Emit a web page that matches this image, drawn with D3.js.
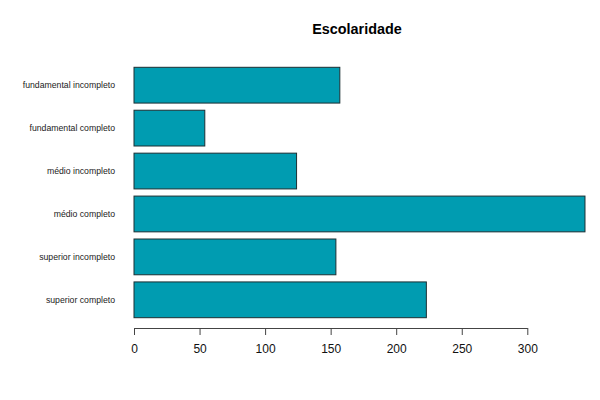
<!DOCTYPE html>
<html>
<head>
<meta charset="utf-8">
<script src="https://cdn.jsdelivr.net/npm/d3@7"></script>
<style>
  body { margin: 0; background: #fff; }
  text { font-family: "Liberation Sans", Arial, sans-serif; }
</style>
</head>
<body>
<div class="container"></div>
<script>
// data
const categories = ["fundamental incompleto", "fundamental completo", "médio incompleto",
                    "médio completo", "superior incompleto", "superior completo"];
const counts = [157, 54, 124, 344, 154, 223];
const xTicks = [0, 50, 100, 150, 200, 250, 300];

const width = 600, height = 400;

const svg = d3.select(".container").append("svg")
    .attr("width", width)
    .attr("height", height);

//scales
const scaleX = d3.scaleLinear()
    .domain([0, 300])
    .range([134, 527.3]);

const scaleY = d3.scaleBand()
    .domain(categories)
    .range([67.3, 317.7])
    .paddingInner(1/6)
    .paddingOuter(0);

//title
svg.append("text")
    .attr("x", 357)
    .attr("y", 34)
    .attr("text-anchor", "middle")
    .style("font-size", "14.4px")
    .style("font-weight", "bold")
    .text("Escolaridade");

//bars
svg.selectAll("rect.bar")
    .data(counts)
    .enter()
    .append("rect")
    .attr("class", "bar")
    .attr("x", scaleX(0))
    .attr("y", (d, i) => scaleY(categories[i]))
    .attr("width", d => scaleX(d) - scaleX(0))
    .attr("height", scaleY.bandwidth())
    .style("fill", "#009cb1")
    .style("stroke", "#1b2f33")
    .style("stroke-width", 1);

//category labels
svg.selectAll("text.cat")
    .data(categories)
    .enter()
    .append("text")
    .attr("class", "cat")
    .attr("x", 115)
    .attr("y", d => scaleY(d) + scaleY.bandwidth() / 2)
    .attr("dy", "0.35em")
    .attr("text-anchor", "end")
    .style("font-size", "8.7px")
    .style("fill", "#222")
    .text(d => d);

//x axis
const xAxis = d3.axisBottom(scaleX)
    .tickValues(xTicks)
    .tickSize(7)
    .tickSizeOuter(0)
    .tickPadding(9);

const xAxisGroup = svg.append("g")
    .attr("transform", "translate(0, 328)")
    .call(xAxis);

xAxisGroup.select(".domain").attr("stroke", "#444");
xAxisGroup.selectAll(".tick line").attr("stroke", "#444");
xAxisGroup.selectAll(".tick text")
    .style("font-size", "12px")
    .style("font-family", "'Liberation Sans', Arial, sans-serif")
    .attr("fill", "#111");
</script>
</body>
</html>
